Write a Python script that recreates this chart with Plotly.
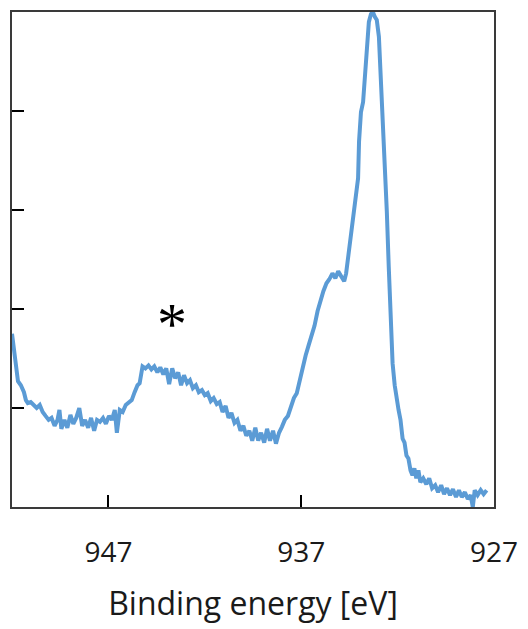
import plotly.graph_objects as go

# Binding energy (eV) and intensity (arb. units)
energy = [952.00, 951.90, 951.79, 951.69, 951.54, 951.38, 951.28, 951.18, 951.03, 950.87,
          950.72, 950.56, 950.41, 950.26, 950.10, 949.95, 949.79, 949.64, 949.54, 949.44,
          949.28, 949.13, 948.97, 948.82, 948.67, 948.51, 948.36, 948.21, 948.05, 947.90,
          947.74, 947.59, 947.44, 947.28, 947.13, 946.97, 946.82, 946.67, 946.56, 946.41,
          946.26, 946.10, 945.95, 945.79, 945.64, 945.49, 945.38, 945.23, 945.08, 944.92,
          944.77, 944.62, 944.46, 944.31, 944.15, 944.00, 943.85, 943.69, 943.54, 943.38,
          943.23, 943.08, 942.92, 942.77, 942.62, 942.46, 942.31, 942.15, 942.00, 941.85,
          941.69, 941.54, 941.38, 941.23, 941.08, 940.92, 940.77, 940.62, 940.46, 940.31,
          940.15, 940.00, 939.85, 939.69, 939.54, 939.38, 939.23, 939.08, 938.92, 938.77,
          938.62, 938.46, 938.31, 938.15, 938.00, 937.85, 937.69, 937.54, 937.38, 937.23,
          937.08, 936.92, 936.77, 936.62, 936.46, 936.31, 936.15, 936.00, 935.85, 935.69,
          935.54, 935.38, 935.23, 935.08, 934.92, 934.77, 934.67, 934.56, 934.46, 934.31,
          934.15, 934.05, 934.00, 933.90, 933.79, 933.69, 933.59, 933.49, 933.38, 933.28,
          933.18, 933.08, 932.97, 932.87, 932.77, 932.67, 932.56, 932.46, 932.36, 932.26,
          932.15, 932.05, 931.95, 931.85, 931.74, 931.64, 931.54, 931.44, 931.33, 931.23,
          931.13, 931.03, 930.92, 930.82, 930.67, 930.51, 930.36, 930.21, 930.05, 929.90,
          929.74, 929.59, 929.44, 929.28, 929.13, 928.97, 928.82, 928.67, 928.51, 928.36,
          928.21, 928.10, 928.00, 927.85, 927.69, 927.54, 927.38]
intensity = [1.75, 1.58, 1.40, 1.27, 1.23, 1.16, 1.08, 1.05, 1.06, 1.03,
             1.00, 1.03, 0.96, 0.92, 0.88, 0.90, 0.82, 0.88, 0.98, 0.79,
             0.88, 0.80, 0.93, 0.84, 0.90, 1.00, 0.82, 0.88, 0.80, 0.90,
             0.77, 0.88, 0.86, 0.90, 0.84, 0.92, 0.88, 0.98, 0.75, 0.98,
             0.96, 1.03, 1.06, 1.08, 1.16, 1.23, 1.25, 1.42, 1.40, 1.43,
             1.39, 1.42, 1.36, 1.41, 1.34, 1.40, 1.24, 1.40, 1.30, 1.36,
             1.23, 1.33, 1.25, 1.28, 1.20, 1.23, 1.16, 1.18, 1.13, 1.15,
             1.07, 1.10, 1.04, 1.06, 0.96, 1.02, 0.90, 0.95, 0.85, 0.88,
             0.77, 0.82, 0.72, 0.77, 0.67, 0.80, 0.67, 0.75, 0.65, 0.79,
             0.67, 0.77, 0.64, 0.75, 0.81, 0.88, 0.92, 1.01, 1.10, 1.15,
             1.28, 1.38, 1.53, 1.63, 1.73, 1.83, 1.98, 2.10, 2.18, 2.26,
             2.30, 2.36, 2.31, 2.38, 2.33, 2.28, 2.36, 2.54, 2.69, 2.92,
             3.14, 3.32, 3.69, 3.99, 4.09, 4.35, 4.70, 4.90, 4.98, 5.00,
             4.95, 4.92, 4.75, 4.33, 3.99, 3.49, 2.99, 2.43, 1.88, 1.45,
             1.23, 1.08, 0.98, 0.88, 0.69, 0.65, 0.52, 0.49, 0.37, 0.32,
             0.39, 0.29, 0.37, 0.25, 0.29, 0.23, 0.29, 0.19, 0.22, 0.15,
             0.22, 0.13, 0.19, 0.12, 0.18, 0.10, 0.17, 0.10, 0.15, 0.08,
             0.12, 0.00, 0.17, 0.12, 0.17, 0.13, 0.17]

x_ticks = [947, 937, 927]
y_ticks = [1, 2, 3, 4]
x_title = "Binding energy [eV]"
marker_label = "*"
marker_pos = (943.7, 1.85)

fig = go.Figure()
fig.add_trace(go.Scatter(
    x=energy, y=intensity, mode="lines",
    line=dict(color="#5B9BD5", width=4),
    showlegend=False, hoverinfo="skip",
))

fig.add_annotation(
    x=marker_pos[0], y=marker_pos[1], text=marker_label, showarrow=False,
    font=dict(family="Liberation Serif", size=60, color="black"),
)

fig.update_layout(
    width=528, height=629,
    margin=dict(l=12, r=29, t=10, b=122),
    plot_bgcolor="white", paper_bgcolor="white",
    font=dict(family="Open Sans", color="#1a1a1a"),
)
fig.update_xaxes(
    range=[952, 927], tickvals=x_ticks, ticktext=[str(t) for t in x_ticks],
    ticks="inside", ticklen=12, tickwidth=1.5, tickcolor="black",
    showline=True, linecolor="#3a3a3a", linewidth=2, mirror=True,
    showgrid=False, zeroline=False,
    tickfont=dict(size=28, family="Open Sans", color="#1a1a1a"),
    ticklabelstandoff=19,
    title=dict(text=x_title, font=dict(size=32, family="Open Sans", color="#1a1a1a"), standoff=24),
)
fig.update_yaxes(
    range=[0, 5], tickvals=y_ticks, showticklabels=False,
    ticks="inside", ticklen=12, tickwidth=1.5, tickcolor="black",
    showline=True, linecolor="#3a3a3a", linewidth=2, mirror=True,
    showgrid=False, zeroline=False,
)

fig.write_html("out.html")
